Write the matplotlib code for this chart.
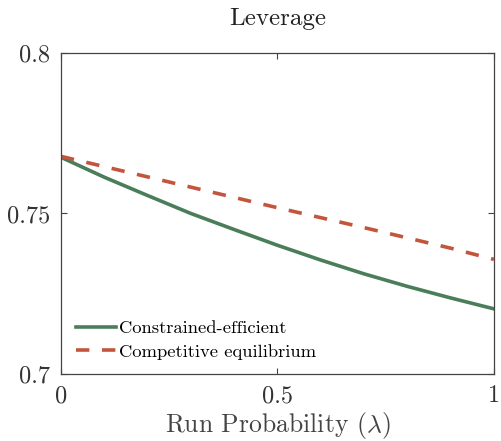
import matplotlib
matplotlib.use('Agg')
import matplotlib.pyplot as plt
import numpy as np

plt.rcParams['font.family'] = 'serif'
plt.rcParams['font.serif'] = ['cmr10']
plt.rcParams['mathtext.fontset'] = 'cm'
plt.rcParams['axes.formatter.use_mathtext'] = True

# Probabilidad de corrida (eje x)
lam = [0.0, 0.1, 0.2, 0.3, 0.4, 0.5, 0.6, 0.7, 0.8, 0.9, 1.0]

# Apalancamiento en cada caso
restringido = [0.7675, 0.7613, 0.7556, 0.7500, 0.7450, 0.7401,
               0.7355, 0.7312, 0.7273, 0.7237, 0.7203]
competitivo = [0.7678, 0.7646, 0.7614, 0.7582, 0.7550, 0.7518,
               0.7487, 0.7456, 0.7424, 0.7392, 0.7357]

xticks = [0, 0.5, 1]
xtick_labels = ['0', '0.5', '1']
yticks = [0.7, 0.75, 0.8]
ytick_labels = ['0.7', '0.75', '0.8']

fig = plt.figure(figsize=(5.01, 4.41), dpi=100)
ax = fig.add_axes([0.1218, 0.1519, 0.864, 0.728])

ax.plot(lam, restringido, color='#4a7d5a', linewidth=2.6, label='Constrained-efficient')
ax.plot(lam, competitivo, color='#c4553d', linewidth=2.6, linestyle=(0, (3.7, 3.5)),
        label='Competitive equilibrium')

ax.set_xlim(0, 1)
ax.set_ylim(0.7, 0.8)
ax.set_xticks(xticks)
ax.set_xticklabels(xtick_labels)
ax.set_yticks(yticks)
ax.set_yticklabels(ytick_labels)
ax.tick_params(direction='in', length=4, width=0.8, labelsize=17.5, color='#444444',
               labelcolor='#333333', top=True, right=True, pad=8)
for s in ax.spines.values():
    s.set_color('#444444')
    s.set_linewidth(0.9)

ax.set_xlabel(r'Run Probability ($\lambda$)', fontsize=18.5, color='#444444', labelpad=2)
ax.set_title('Leverage', fontsize=18, color='#222222', pad=20)

ax.legend(loc='lower left', frameon=False, fontsize=13.4, handlelength=2.15,
          handletextpad=0.15, labelspacing=0.4, borderaxespad=0.0,
          bbox_to_anchor=(0.018, 0.022))

fig.savefig('out.png', dpi=100)
